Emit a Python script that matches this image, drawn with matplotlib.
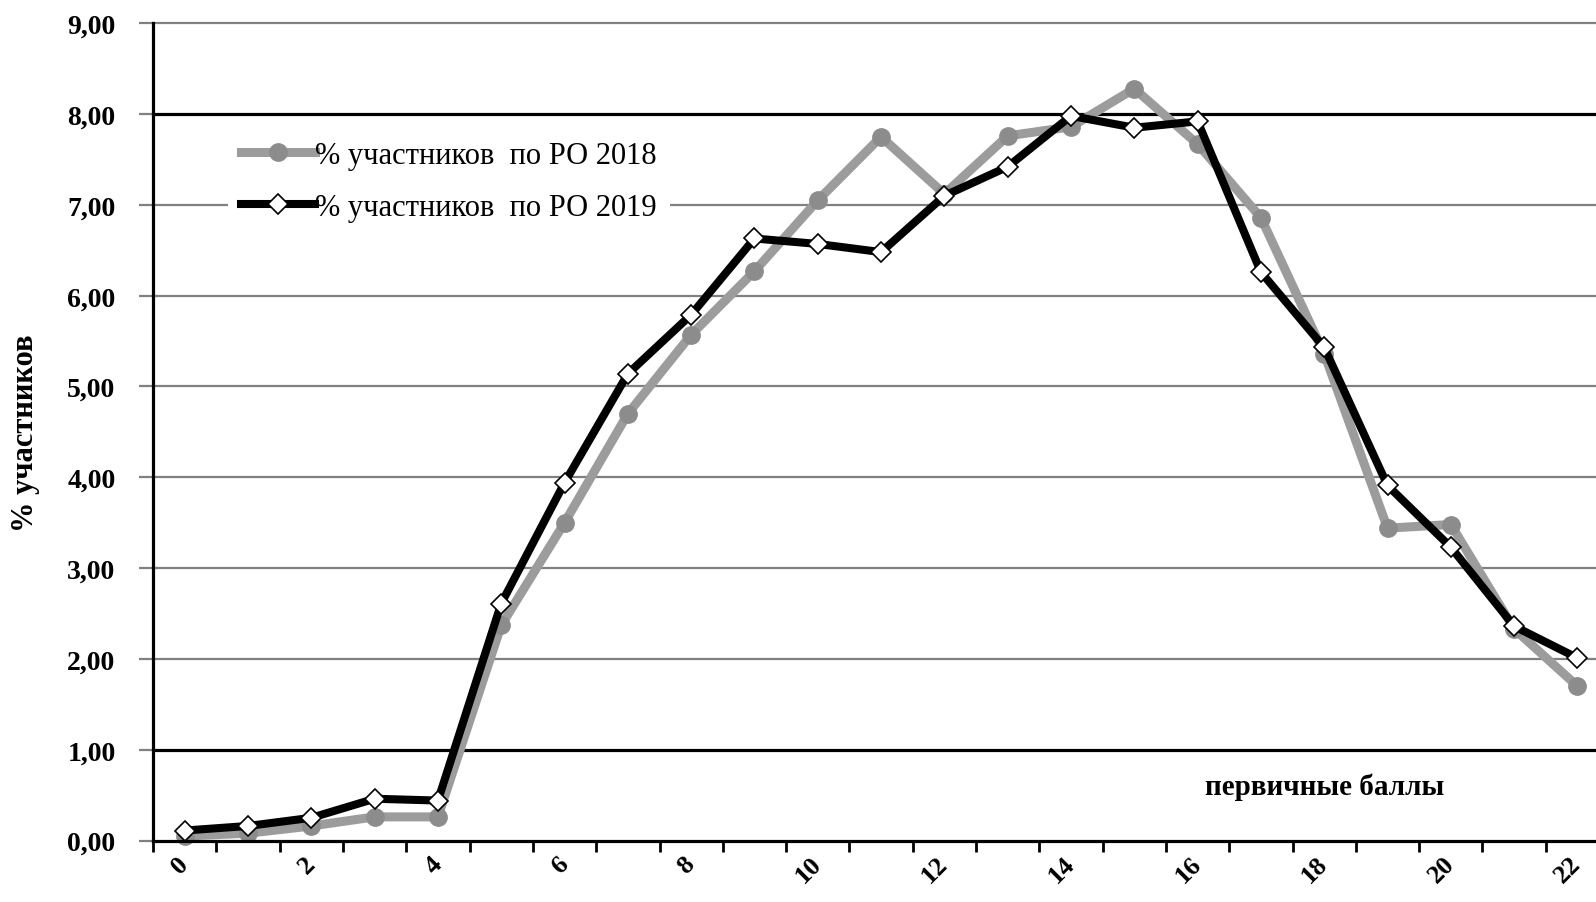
import matplotlib
matplotlib.use("Agg")
import matplotlib.pyplot as plt

# первичные баллы
баллы = list(range(23))
# % участников по РО 2018
pct_2018 = [0.05, 0.08, 0.16, 0.26, 0.26, 2.37, 3.50, 4.70, 5.57, 6.27,
            7.05, 7.75, 7.12, 7.76, 7.86, 8.28, 7.67, 6.86, 5.36, 3.44,
            3.48, 2.33, 1.70]
# % участников по РО 2019
pct_2019 = [0.11, 0.16, 0.25, 0.46, 0.44, 2.61, 3.94, 5.14, 5.79, 6.63,
            6.57, 6.48, 7.10, 7.42, 7.98, 7.85, 7.92, 6.26, 5.43, 3.91,
            3.23, 2.36, 2.01]
подписи_x = [str(b) for b in баллы[::2]]
деления_y = list(range(10))
подписи_y = [f"{v},00" for v in деления_y]
тёмные_линии = [1, 8]

SERIF = ["Liberation Serif", "DejaVu Serif"]

fig = plt.figure(figsize=(15.96, 9.03), dpi=100)
ax = fig.add_axes([0.0959, 0.0681, 0.9123, 0.905])

# сетка
for v in деления_y[1:]:
    dark = v in тёмные_линии
    ax.axhline(v, color="black" if dark else "#808080",
               lw=2.3 if dark else 1.6, zorder=1, clip_on=False)

ax.plot(баллы, pct_2018, color="#9c9c9c", lw=6.5, marker="o",
        markersize=12.5, markerfacecolor="#8c8c8c", markeredgecolor="#8c8c8c",
        zorder=3, label="% участников  по РО 2018", clip_on=False)
ax.plot(баллы, pct_2019, color="black", lw=5.8, marker="D",
        markersize=10, markerfacecolor="white", markeredgecolor="black",
        markeredgewidth=1.2, zorder=4, label="% участников  по РО 2019",
        clip_on=False)

ax.set_xlim(-0.5, 22.5)
ax.set_ylim(0, 9)

for s in ["top", "right"]:
    ax.spines[s].set_visible(False)
ax.spines["left"].set_linewidth(2.3)
ax.spines["bottom"].set_linewidth(2.3)
ax.spines["left"].set_zorder(5)
ax.spines["bottom"].set_zorder(5)

# ось x: деления по границам категорий, подписи под точками
ax.set_xticks([b - 0.5 for b in баллы] + [баллы[-1] + 0.5])
ax.set_xticklabels([])
ax.tick_params(axis="x", which="major", direction="out", length=8, width=2,
               color="black")
ax.set_xticks(баллы[::2], minor=True)
ax.set_xticklabels(подписи_x, minor=True, rotation=45, ha="right",
                   va="center", rotation_mode="anchor",
                   fontfamily=SERIF, fontweight="bold", fontsize=19)
ax.tick_params(axis="x", which="minor", length=0, pad=14)

ax.set_yticks(деления_y)
ax.set_yticklabels(подписи_y, fontfamily=SERIF, fontweight="bold", fontsize=20)
ax.tick_params(axis="y", direction="out", length=10, width=1.6,
               color="#808080", pad=17)
for v, t in zip(деления_y, ax.yaxis.get_major_ticks()):
    if v in тёмные_линии or v == 0:
        t.tick1line.set_color("black")

ax.set_ylabel("% участников", fontfamily=SERIF, fontweight="bold",
              fontsize=22, labelpad=20)

ax.text(18, 0.6, "первичные баллы", ha="center", va="center",
        fontfamily=SERIF, fontweight="bold", fontsize=21)

leg = ax.legend(loc="upper left", bbox_to_anchor=(0.133, 0.875),
                bbox_transform=fig.transFigure, frameon=True,
                facecolor="white", edgecolor="none", framealpha=1,
                prop={"family": SERIF, "size": 22}, handlelength=2.4,
                handletextpad=0.0, labelspacing=0.75, borderpad=0.45,
                fancybox=False)
leg.set_zorder(6)

fig.savefig("out.png", dpi=100)
